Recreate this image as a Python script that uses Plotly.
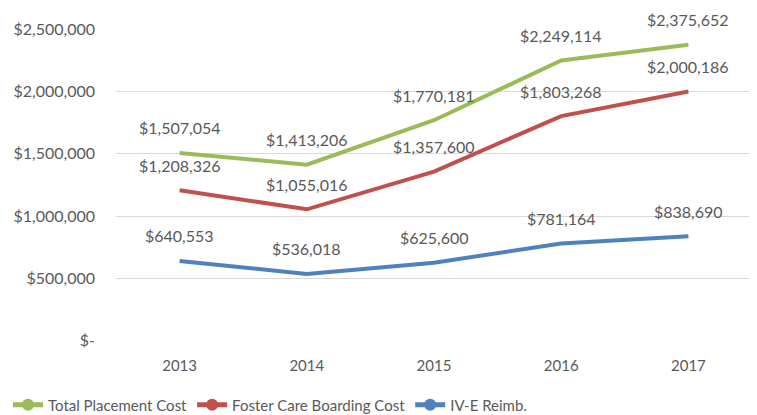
import plotly.graph_objects as go

years = ["2013", "2014", "2015", "2016", "2017"]
total_placement = [1507054, 1413206, 1770181, 2249114, 2375652]
foster_boarding = [1208326, 1055016, 1357600, 1803268, 2000186]
ive_reimb = [640553, 536018, 625600, 781164, 838690]

y_tickvals = [0, 500000, 1000000, 1500000, 2000000, 2500000]
y_ticktext = ["$-", "$500,000", "$1,000,000", "$1,500,000", "$2,000,000", "$2,500,000"]

series = [
    ("Total Placement Cost", total_placement, "#9BBB59"),
    ("Foster Care Boarding Cost", foster_boarding, "#C0504D"),
    ("IV-E Reimb.", ive_reimb, "#4F81BD"),
]

FONT = "Lato, 'Open Sans', sans-serif"
TXT = "#595959"

fig = go.Figure()
annotations = []
for name, vals, color in series:
    fig.add_trace(go.Scatter(x=years, y=vals, mode="lines", name=name,
                             line=dict(color=color, width=4), showlegend=False,
                             hoverinfo="skip"))
    fig.add_trace(go.Scatter(x=[years[0]], y=[None], mode="lines+markers", name=name,
                             line=dict(color=color, width=4),
                             marker=dict(color=color, size=9), showlegend=True))
    for i, v in enumerate(vals):
        annotations.append(dict(x=i, y=v, xref="x", yref="y", text=f"${v:,}",
                                showarrow=False, yshift=25,
                                font=dict(family=FONT, size=16, color=TXT)))

# page body has an 8px margin, so the figure is sized/offset to compensate
fig.update_layout(
    width=749, height=407,
    margin=dict(l=108, r=5, t=21, b=74, autoexpand=False),
    paper_bgcolor="white", plot_bgcolor="white",
    font=dict(family=FONT, size=15, color=TXT),
    annotations=annotations,
    showlegend=True,
    legend=dict(orientation="h", xref="container", x=0.0, xanchor="left",
                yref="container", y=0.0246, yanchor="middle",
                font=dict(family=FONT, size=15, color=TXT),
                itemwidth=30, tracegroupgap=0, itemsizing="constant"),
    xaxis=dict(type="category", categoryorder="array", categoryarray=years,
               range=[-0.5, 4.5], showgrid=False, zeroline=False, showline=False,
               ticks="", ticklabelstandoff=14, automargin=False,
               tickfont=dict(size=15, color=TXT)),
    yaxis=dict(range=[-2000, 2502000], tickvals=y_tickvals, ticktext=y_ticktext,
               showgrid=True, gridcolor="#D9D9D9", gridwidth=1, zeroline=False,
               showline=False, ticks="", ticklabelstandoff=20, automargin=False,
               tickfont=dict(size=16, color=TXT)),
)

fig.write_html("out.html")
